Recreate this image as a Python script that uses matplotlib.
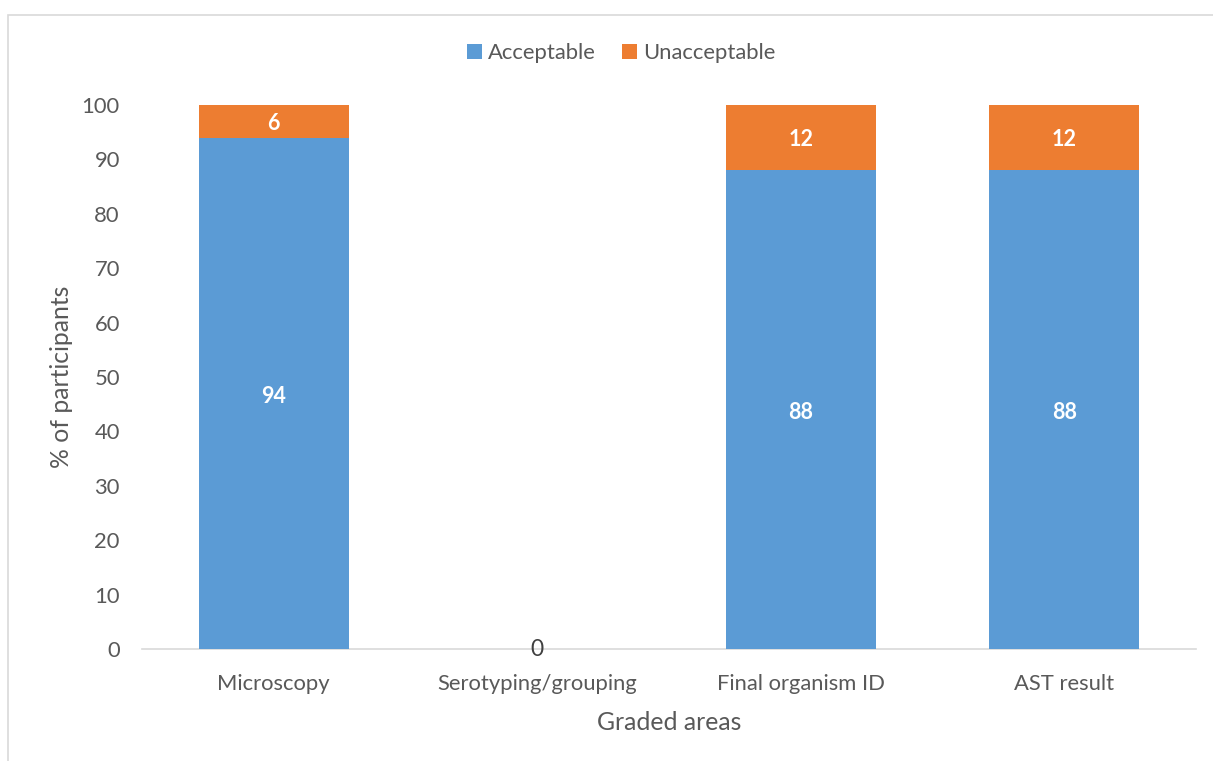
import matplotlib
matplotlib.use("Agg")
import matplotlib.pyplot as plt
from matplotlib.patches import Rectangle

categories = ["Microscopy", "Serotyping/grouping", "Final organism ID", "AST result"]
acceptable = [94, 0, 88, 88]
unacceptable = [6, 0, 12, 12]
yticks = list(range(0, 101, 10))

plt.rcParams['font.family'] = ['Lato', 'DejaVu Sans']
blue = "#5B9BD5"
orange = "#ED7D31"
gray = "#595959"

fig = plt.figure(figsize=(12.13, 7.61), dpi=100)
ax = fig.add_axes([142/1213, 112/761, (1196-142)/1213, (649-105)/761])

x = list(range(len(categories)))
w = 0.57
b1 = ax.bar(x, acceptable, width=w, color=blue, label="Acceptable", zorder=2)
b2 = ax.bar(x, unacceptable, width=w, bottom=acceptable, color=orange, label="Unacceptable", zorder=2)

for i in x:
    a, u = acceptable[i], unacceptable[i]
    if a + u == 0:
        ax.text(i, 0, "0", ha="center", va="center", fontsize=16.5, color="#404040", zorder=3)
        continue
    ax.text(i, a / 2 - 0.5, f"{a}", ha="center", va="center", fontsize=15.5, color="white", fontweight="bold", zorder=3)
    ax.text(i, a + u / 2 - 0.4, f"{u}", ha="center", va="center", fontsize=15.5, color="white", fontweight="bold", zorder=3)

ax.set_xlim(-0.5, len(categories) - 0.5)
ax.set_ylim(0, 100)
ax.set_yticks(yticks)
ax.set_xticks(x)
ax.set_xticklabels(categories)
ax.tick_params(axis="both", length=0, labelsize=15.8, colors=gray)
ax.tick_params(axis="y", pad=16)
ax.tick_params(axis="x", pad=18)
for s in ["top", "right", "left"]:
    ax.spines[s].set_visible(False)
ax.spines["bottom"].set_color("#D9D9D9")
ax.spines["bottom"].set_linewidth(1.2)
ax.spines["bottom"].set_zorder(1)

ax.set_ylabel("% of participants", fontsize=17.8, color=gray, labelpad=6)
ax.set_xlabel("Graded areas", fontsize=17.8, color=gray, labelpad=12)

fig.legend(handles=[b1, b2], loc="center", bbox_to_anchor=(621.5/1213, 1 - 53/761), ncol=2,
           frameon=False, fontsize=15.8, handlelength=0.65, handleheight=0.65,
           handletextpad=0.3, columnspacing=1.2, labelcolor=gray)

fig.patches.append(Rectangle((8/1213, -0.1), 1.2, (761 - 15)/761 + 0.1, transform=fig.transFigure,
                             fill=False, edgecolor="#D9D9D9", linewidth=1.2))

fig.savefig("out.png", dpi=100)
